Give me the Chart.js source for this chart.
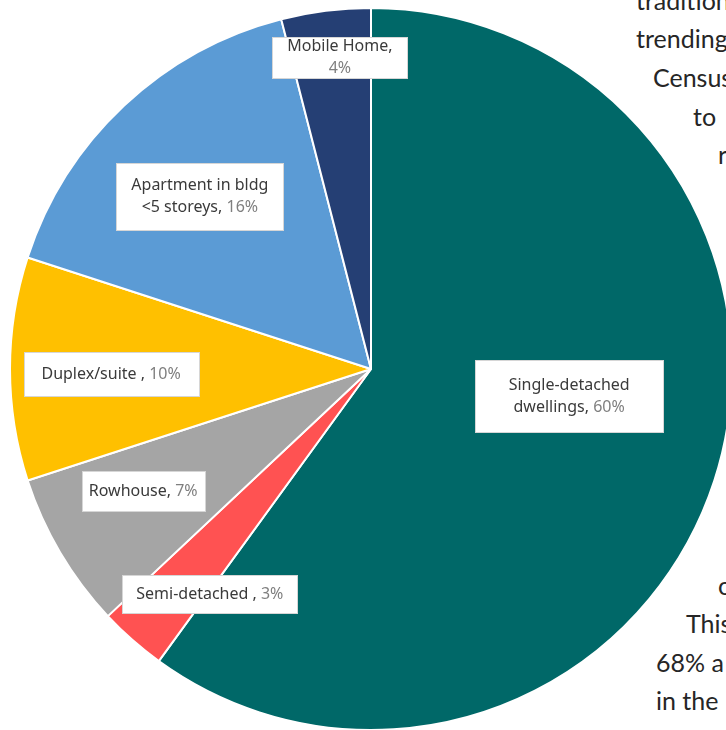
<!DOCTYPE html>
<html>
<head>
<meta charset="utf-8">
<script src="https://cdn.jsdelivr.net/npm/chart.js@4.4.1/dist/chart.umd.min.js"></script>
<style>
  html, body { margin: 0; padding: 0; background: #ffffff; }
  body { width: 726px; height: 730px; overflow: hidden; position: relative; }
  #page { position: absolute; left: 0; top: 0; width: 726px; height: 730px; overflow: hidden; }
  .ln { position: absolute; white-space: nowrap; font-family: Lato, "Open Sans", sans-serif;
        font-size: 25px; color: #262626; line-height: 1; }
  #chart { position: absolute; left: 0; top: 0; }
</style>
</head>
<body>
<div id="page">
  <!-- body copy wrapping around the chart on the right -->
  <div class="ln" style="left:636px; top:-12px;">traditional</div>
  <div class="ln" style="left:636px; top:26px;">trending</div>
  <div class="ln" style="left:653px; top:65px;">Census</div>
  <div class="ln" style="left:693px; top:104px;">to</div>
  <div class="ln" style="left:718px; top:142px;">r</div>
  <div class="ln" style="left:718px; top:573px;">c</div>
  <div class="ln" style="left:686px; top:611px;">This</div>
  <div class="ln" style="left:656px; top:650px;">68% a</div>
  <div class="ln" style="left:656px; top:688px;">in the</div>
  <canvas id="chart" width="740" height="740"></canvas>
</div>
<script>
// Dwelling types, clockwise from 12 o'clock
const categories = [
  ["Single-detached", "dwellings"],
  ["Semi-detached "],
  ["Rowhouse"],
  ["Duplex/suite "],
  ["Apartment in bldg", "<5 storeys"],
  ["Mobile Home"]
];
const shares = [60, 3, 7, 10, 16, 4];
const sliceColors = ["#006868", "#FF5252", "#A5A5A5", "#FFC000", "#5B9BD5", "#253F74"];

// Where each call-out box sits: angle shift from the slice middle (deg),
// distance from centre as a fraction of the radius, and box size.
const calloutLayout = [
  { shift: -10.2, dist: 0.554, w: 188, h: 72, valueBreak: false },
  { shift: -5.8,  dist: 0.767, w: 175, h: 38, valueBreak: false },
  { shift: 2.4,   dist: 0.716, w: 123, h: 40, valueBreak: false },
  { shift: -1.1,  dist: 0.720, w: 175, h: 44, valueBreak: false },
  { shift: -1.5,  dist: 0.674, w: 167, h: 67, valueBreak: false },
  { shift: 1.5,   dist: 0.868, w: 135, h: 41, valueBreak: true }
];

const calloutPlugin = {
  id: 'callouts',
  afterDatasetsDraw(chart) {
    const ctx = chart.ctx;
    const meta = chart.getDatasetMeta(0);
    const font = '16px "Noto Sans", "Open Sans", sans-serif';
    const nameColor = '#3a3a3a';
    const valueColor = '#7f7f7f';
    const lineH = 22;
    meta.data.forEach((arc, i) => {
      const p = arc.getProps(['x', 'y', 'startAngle', 'endAngle', 'outerRadius'], true);
      const lay = calloutLayout[i];
      const mid = (p.startAngle + p.endAngle) / 2 + lay.shift * Math.PI / 180;
      const cx = p.x + Math.cos(mid) * p.outerRadius * lay.dist;
      const cy = p.y + Math.sin(mid) * p.outerRadius * lay.dist;

      // text lines: category lines, value joined to the last one (or on its own line)
      const name = chart.data.labels[i].slice();
      const valueText = chart.data.datasets[0].data[i] + '%';
      const lines = name.map(t => [{ t, c: nameColor }]);
      if (lay.valueBreak) {
        lines[lines.length - 1].push({ t: ',', c: nameColor });
        lines.push([{ t: valueText, c: valueColor }]);
      } else {
        lines[lines.length - 1].push({ t: ', ', c: nameColor });
        lines[lines.length - 1].push({ t: valueText, c: valueColor });
      }

      ctx.save();
      ctx.fillStyle = '#ffffff';
      ctx.strokeStyle = '#d6d6d6';
      ctx.lineWidth = 1;
      const bx = Math.round(cx - lay.w / 2) + 0.5;
      const by = Math.round(cy - lay.h / 2) + 0.5;
      ctx.fillRect(bx, by, lay.w, lay.h);
      ctx.strokeRect(bx, by, lay.w, lay.h);

      ctx.font = font;
      ctx.textBaseline = 'middle';
      ctx.textAlign = 'left';
      const top = cy - (lines.length - 1) * lineH / 2;
      lines.forEach((segs, li) => {
        const total = segs.reduce((s, g) => s + ctx.measureText(g.t).width, 0);
        let x = cx - total / 2;
        const y = top + li * lineH;
        segs.forEach(g => {
          ctx.fillStyle = g.c;
          ctx.fillText(g.t, x, y);
          x += ctx.measureText(g.t).width;
        });
      });
      ctx.restore();
    });
  }
};

new Chart(document.getElementById('chart'), {
  type: 'pie',
  data: {
    labels: categories,
    datasets: [{
      data: shares,
      backgroundColor: sliceColors,
      borderColor: '#ffffff',
      borderWidth: 2
    }]
  },
  options: {
    responsive: false,
    devicePixelRatio: 1,
    animation: false,
    layout: { padding: { left: 9, top: 7, right: 7, bottom: 9 } },
    plugins: {
      legend: { display: false },
      tooltip: { enabled: false }
    }
  },
  plugins: [calloutPlugin]
});
</script>
</body>
</html>
